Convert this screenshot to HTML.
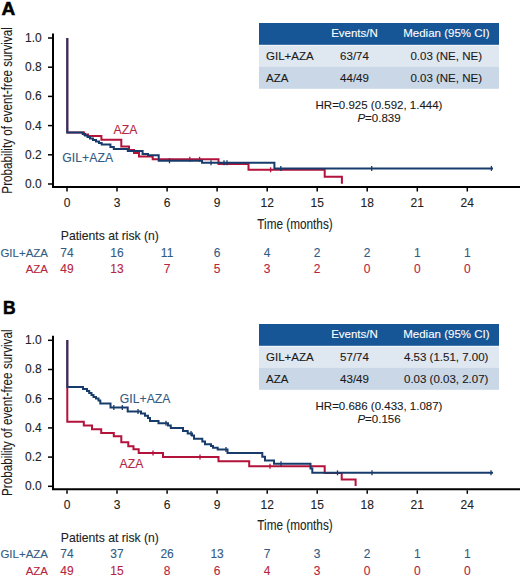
<!DOCTYPE html><html><head><meta charset="utf-8"><style>
html,body{margin:0;padding:0;background:#fff;width:520px;height:578px;overflow:hidden}
svg{display:block;font-family:"Liberation Sans", sans-serif}
text{stroke-width:0.1px}
</style></head><body>
<svg width="520" height="578" viewBox="0 0 520 578">
<text transform="translate(1.6,15) scale(1.09,1)" font-size="17.5" font-weight="bold" fill="#000" stroke="#000" style="stroke-width:0.5px">A</text>
<g transform="translate(0,0)">
<text transform="translate(12.4,110.4) rotate(-90)" text-anchor="middle" font-size="14.6" fill="#1a1a1a" stroke="#1a1a1a" textLength="166.5" lengthAdjust="spacingAndGlyphs">Probability of event-free survival</text>
<path d="M53,33.5V188M52,187H520" stroke="#000" stroke-width="2" fill="none"/>
<path d="M48,184.0H53" stroke="#000" stroke-width="1.5"/>
<text x="41.8" y="187.9" text-anchor="end" font-size="12" fill="#222" stroke="#222">0.0</text>
<path d="M48,154.8H53" stroke="#000" stroke-width="1.5"/>
<text x="41.8" y="158.7" text-anchor="end" font-size="12" fill="#222" stroke="#222">0.2</text>
<path d="M48,125.6H53" stroke="#000" stroke-width="1.5"/>
<text x="41.8" y="129.5" text-anchor="end" font-size="12" fill="#222" stroke="#222">0.4</text>
<path d="M48,96.4H53" stroke="#000" stroke-width="1.5"/>
<text x="41.8" y="100.3" text-anchor="end" font-size="12" fill="#222" stroke="#222">0.6</text>
<path d="M48,67.2H53" stroke="#000" stroke-width="1.5"/>
<text x="41.8" y="71.1" text-anchor="end" font-size="12" fill="#222" stroke="#222">0.8</text>
<path d="M48,38.0H53" stroke="#000" stroke-width="1.5"/>
<text x="41.8" y="41.9" text-anchor="end" font-size="12" fill="#222" stroke="#222">1.0</text>
<path d="M67.0,188V191.5" stroke="#000" stroke-width="1.5"/>
<text x="67.0" y="206.5" text-anchor="middle" font-size="12" fill="#222" stroke="#222">0</text>
<path d="M117.0,188V191.5" stroke="#000" stroke-width="1.5"/>
<text x="117.0" y="206.5" text-anchor="middle" font-size="12" fill="#222" stroke="#222">3</text>
<path d="M167.1,188V191.5" stroke="#000" stroke-width="1.5"/>
<text x="167.1" y="206.5" text-anchor="middle" font-size="12" fill="#222" stroke="#222">6</text>
<path d="M217.1,188V191.5" stroke="#000" stroke-width="1.5"/>
<text x="217.1" y="206.5" text-anchor="middle" font-size="12" fill="#222" stroke="#222">9</text>
<path d="M267.2,188V191.5" stroke="#000" stroke-width="1.5"/>
<text x="267.2" y="206.5" text-anchor="middle" font-size="12" fill="#222" stroke="#222">12</text>
<path d="M317.2,188V191.5" stroke="#000" stroke-width="1.5"/>
<text x="317.2" y="206.5" text-anchor="middle" font-size="12" fill="#222" stroke="#222">15</text>
<path d="M367.2,188V191.5" stroke="#000" stroke-width="1.5"/>
<text x="367.2" y="206.5" text-anchor="middle" font-size="12" fill="#222" stroke="#222">18</text>
<path d="M417.3,188V191.5" stroke="#000" stroke-width="1.5"/>
<text x="417.3" y="206.5" text-anchor="middle" font-size="12" fill="#222" stroke="#222">21</text>
<path d="M467.3,188V191.5" stroke="#000" stroke-width="1.5"/>
<text x="467.3" y="206.5" text-anchor="middle" font-size="12" fill="#222" stroke="#222">24</text>
<text x="257.3" y="229.0" font-size="14.6" fill="#222" stroke="#222" textLength="75.4" lengthAdjust="spacingAndGlyphs">Time (months)</text>
<path d="M67.3,38.00H67.3V132.50H84V134.50H88V136.00H101.4V139.70H121.3V146.50H129V150.00H134V153.00H139V156.60H152.7V159.30H218.5V164.10H248.5V169.80H324.7V176.80H341.9V183.80H341.9" stroke="#b3123a" stroke-width="2" fill="none"/>
<path d="M189.8,156.80V161.80" stroke="#b3123a" stroke-width="1.3"/>
<path d="M199.6,156.80V161.80" stroke="#b3123a" stroke-width="1.3"/>
<path d="M270.6,167.30V172.30" stroke="#b3123a" stroke-width="1.3"/>
<path d="M67.3,38.00H67.3V132.50H82.7V134.00H85V135.50H87.5V137.00H90V138.50H93V140.00H96V141.50H99V143.00H101.7V144.40H110.4V147.00H113.8V149.00H127.8V151.00H142.6V154.00H148V155.30H158.7V160.80H202V162.70H274.4V168.40H493" stroke="#173c6c" stroke-width="2" fill="none"/>
<path d="M169.5,158.30V163.30" stroke="#173c6c" stroke-width="1.3"/>
<path d="M211,160.20V165.20" stroke="#173c6c" stroke-width="1.3"/>
<path d="M224,160.20V165.20" stroke="#173c6c" stroke-width="1.3"/>
<path d="M227,160.20V165.20" stroke="#173c6c" stroke-width="1.3"/>
<path d="M280.8,165.90V170.90" stroke="#173c6c" stroke-width="1.3"/>
<path d="M371.7,165.90V170.90" stroke="#173c6c" stroke-width="1.3"/>
<path d="M491.4,165.90V170.90" stroke="#173c6c" stroke-width="1.3"/>
</g>
<text x="113.5" y="133.5" font-size="12.2" fill="#b52541" stroke="#b52541" textLength="23.8">AZA</text>
<text x="62.3" y="162" font-size="12.2" fill="#315b84" stroke="#315b84" textLength="50.8">GIL+AZA</text>
<text x="60.8" y="240.2" font-size="12.2" fill="#222" stroke="#222" textLength="98">Patients at risk (n)</text>
<text x="48" y="256.6" text-anchor="end" font-size="11.5" fill="#315b84" stroke="#315b84">GIL+AZA</text>
<text x="48" y="273.4" text-anchor="end" font-size="11.5" fill="#b52541" stroke="#b52541">AZA</text>
<text x="67.0" y="256.6" text-anchor="middle" font-size="12" fill="#315b84" stroke="#315b84">74</text>
<text x="67.0" y="273.4" text-anchor="middle" font-size="12" fill="#b52541" stroke="#b52541">49</text>
<text x="117.0" y="256.6" text-anchor="middle" font-size="12" fill="#315b84" stroke="#315b84">16</text>
<text x="117.0" y="273.4" text-anchor="middle" font-size="12" fill="#b52541" stroke="#b52541">13</text>
<text x="167.1" y="256.6" text-anchor="middle" font-size="12" fill="#315b84" stroke="#315b84">11</text>
<text x="167.1" y="273.4" text-anchor="middle" font-size="12" fill="#b52541" stroke="#b52541">7</text>
<text x="217.1" y="256.6" text-anchor="middle" font-size="12" fill="#315b84" stroke="#315b84">6</text>
<text x="217.1" y="273.4" text-anchor="middle" font-size="12" fill="#b52541" stroke="#b52541">5</text>
<text x="267.2" y="256.6" text-anchor="middle" font-size="12" fill="#315b84" stroke="#315b84">4</text>
<text x="267.2" y="273.4" text-anchor="middle" font-size="12" fill="#b52541" stroke="#b52541">3</text>
<text x="317.2" y="256.6" text-anchor="middle" font-size="12" fill="#315b84" stroke="#315b84">2</text>
<text x="317.2" y="273.4" text-anchor="middle" font-size="12" fill="#b52541" stroke="#b52541">2</text>
<text x="367.2" y="256.6" text-anchor="middle" font-size="12" fill="#315b84" stroke="#315b84">2</text>
<text x="367.2" y="273.4" text-anchor="middle" font-size="12" fill="#b52541" stroke="#b52541">0</text>
<text x="417.3" y="256.6" text-anchor="middle" font-size="12" fill="#315b84" stroke="#315b84">1</text>
<text x="417.3" y="273.4" text-anchor="middle" font-size="12" fill="#b52541" stroke="#b52541">0</text>
<text x="467.3" y="256.6" text-anchor="middle" font-size="12" fill="#315b84" stroke="#315b84">1</text>
<text x="467.3" y="273.4" text-anchor="middle" font-size="12" fill="#b52541" stroke="#b52541">0</text>
<g transform="translate(0,0)">
<rect x="259" y="23" width="240" height="21.8" fill="#165696"/>
<rect x="259" y="45.6" width="240" height="21" fill="#dfe7f0"/>
<rect x="259" y="66.6" width="240" height="22.2" fill="#c9d7e6"/>
<text x="354.5" y="37.3" text-anchor="middle" font-size="11.5" fill="#fff" stroke="#fff">Events/N</text>
<text x="446.4" y="37.3" text-anchor="middle" font-size="11.5" fill="#fff" stroke="#fff">Median (95% CI)</text>
<text x="266" y="59.8" font-size="11.5" fill="#1a1a1a" stroke="#1a1a1a">GIL+AZA</text>
<text x="354.5" y="59.8" text-anchor="middle" font-size="11.5" fill="#1a1a1a" stroke="#1a1a1a">63/74</text>
<text x="446.2" y="59.8" text-anchor="middle" font-size="11.5" fill="#1a1a1a" stroke="#1a1a1a">0.03 (NE, NE)</text>
<text x="266" y="81.5" font-size="11.5" fill="#1a1a1a" stroke="#1a1a1a">AZA</text>
<text x="354.5" y="81.5" text-anchor="middle" font-size="11.5" fill="#1a1a1a" stroke="#1a1a1a">44/49</text>
<text x="446.2" y="81.5" text-anchor="middle" font-size="11.5" fill="#1a1a1a" stroke="#1a1a1a">0.03 (NE, NE)</text>
<text x="379" y="109" text-anchor="middle" font-size="11.5" fill="#1a1a1a" stroke="#1a1a1a">HR=0.925 (0.592, 1.444)</text>
<text x="379" y="121.7" text-anchor="middle" font-size="11.5" fill="#1a1a1a" stroke="#1a1a1a"><tspan font-style="italic">P</tspan>=0.839</text>
</g>
<text transform="translate(3.0,313.8) scale(1.0,1)" font-size="17.5" font-weight="bold" fill="#000" stroke="#000" style="stroke-width:0.5px">B</text>
<g transform="translate(0,302.3)">
<text transform="translate(12.4,110.4) rotate(-90)" text-anchor="middle" font-size="14.6" fill="#1a1a1a" stroke="#1a1a1a" textLength="166.5" lengthAdjust="spacingAndGlyphs">Probability of event-free survival</text>
<path d="M53,33.5V188M52,187H520" stroke="#000" stroke-width="2" fill="none"/>
<path d="M48,184.0H53" stroke="#000" stroke-width="1.5"/>
<text x="41.8" y="187.9" text-anchor="end" font-size="12" fill="#222" stroke="#222">0.0</text>
<path d="M48,154.8H53" stroke="#000" stroke-width="1.5"/>
<text x="41.8" y="158.7" text-anchor="end" font-size="12" fill="#222" stroke="#222">0.2</text>
<path d="M48,125.6H53" stroke="#000" stroke-width="1.5"/>
<text x="41.8" y="129.5" text-anchor="end" font-size="12" fill="#222" stroke="#222">0.4</text>
<path d="M48,96.4H53" stroke="#000" stroke-width="1.5"/>
<text x="41.8" y="100.3" text-anchor="end" font-size="12" fill="#222" stroke="#222">0.6</text>
<path d="M48,67.2H53" stroke="#000" stroke-width="1.5"/>
<text x="41.8" y="71.1" text-anchor="end" font-size="12" fill="#222" stroke="#222">0.8</text>
<path d="M48,38.0H53" stroke="#000" stroke-width="1.5"/>
<text x="41.8" y="41.9" text-anchor="end" font-size="12" fill="#222" stroke="#222">1.0</text>
<path d="M67.0,188V191.5" stroke="#000" stroke-width="1.5"/>
<text x="67.0" y="206.5" text-anchor="middle" font-size="12" fill="#222" stroke="#222">0</text>
<path d="M117.0,188V191.5" stroke="#000" stroke-width="1.5"/>
<text x="117.0" y="206.5" text-anchor="middle" font-size="12" fill="#222" stroke="#222">3</text>
<path d="M167.1,188V191.5" stroke="#000" stroke-width="1.5"/>
<text x="167.1" y="206.5" text-anchor="middle" font-size="12" fill="#222" stroke="#222">6</text>
<path d="M217.1,188V191.5" stroke="#000" stroke-width="1.5"/>
<text x="217.1" y="206.5" text-anchor="middle" font-size="12" fill="#222" stroke="#222">9</text>
<path d="M267.2,188V191.5" stroke="#000" stroke-width="1.5"/>
<text x="267.2" y="206.5" text-anchor="middle" font-size="12" fill="#222" stroke="#222">12</text>
<path d="M317.2,188V191.5" stroke="#000" stroke-width="1.5"/>
<text x="317.2" y="206.5" text-anchor="middle" font-size="12" fill="#222" stroke="#222">15</text>
<path d="M367.2,188V191.5" stroke="#000" stroke-width="1.5"/>
<text x="367.2" y="206.5" text-anchor="middle" font-size="12" fill="#222" stroke="#222">18</text>
<path d="M417.3,188V191.5" stroke="#000" stroke-width="1.5"/>
<text x="417.3" y="206.5" text-anchor="middle" font-size="12" fill="#222" stroke="#222">21</text>
<path d="M467.3,188V191.5" stroke="#000" stroke-width="1.5"/>
<text x="467.3" y="206.5" text-anchor="middle" font-size="12" fill="#222" stroke="#222">24</text>
<text x="257.3" y="228.0" font-size="14.6" fill="#222" stroke="#222" textLength="75.4" lengthAdjust="spacingAndGlyphs">Time (months)</text>
<path d="M67.3,37.70H67.3V119.50H83.8V123.10H92V126.90H101.2V130.70H113.8V134.00H121.3V140.00H128.3V144.00H133.5V146.90H138.7V150.60H163V154.70H218.5V158.90H249.2V163.90H324.7V170.60H341.7V177.20H355.6V183.70H355.6" stroke="#b3123a" stroke-width="2" fill="none"/>
<path d="M153,148.10V153.10" stroke="#b3123a" stroke-width="1.3"/>
<path d="M200,152.20V157.20" stroke="#b3123a" stroke-width="1.3"/>
<path d="M270,161.40V166.40" stroke="#b3123a" stroke-width="1.3"/>
<path d="M67.3,37.70H67.3V84.70H83V86.70H87V88.70H89.2V90.70H91.5V92.70H93.5V94.70H96V96.20H98.5V98.20H100.3V101.10H110.5V105.10H127.7V109.20H141V111.20H145V113.50H148V115.70H150V118.70H158.5V120.90H168V123.20H170.8V125.70H183V128.70H187.7V131.20H192V133.20H194V136.50H202.3V139.20H205V142.00H211V143.70H213V145.40H217.7V147.20H227.5V150.70H262.3V154.50H265V158.20H274V161.50H310.5V166.20H312.3V170.50H493" stroke="#173c6c" stroke-width="2" fill="none"/>
<path d="M113.8,102.60V107.60" stroke="#173c6c" stroke-width="1.3"/>
<path d="M122.3,102.60V107.60" stroke="#173c6c" stroke-width="1.3"/>
<path d="M138,106.70V111.70" stroke="#173c6c" stroke-width="1.3"/>
<path d="M166,118.40V123.40" stroke="#173c6c" stroke-width="1.3"/>
<path d="M191,128.70V133.70" stroke="#173c6c" stroke-width="1.3"/>
<path d="M226,144.70V149.70" stroke="#173c6c" stroke-width="1.3"/>
<path d="M281,159.00V164.00" stroke="#173c6c" stroke-width="1.3"/>
<path d="M337.5,168.00V173.00" stroke="#173c6c" stroke-width="1.3"/>
<path d="M372,168.00V173.00" stroke="#173c6c" stroke-width="1.3"/>
<path d="M491,168.00V173.00" stroke="#173c6c" stroke-width="1.3"/>
</g>
<text x="119.6" y="467.7" font-size="12.2" fill="#b52541" stroke="#b52541" textLength="23.8">AZA</text>
<text x="119.7" y="402.5" font-size="12.2" fill="#315b84" stroke="#315b84" textLength="50.8">GIL+AZA</text>
<text x="60.8" y="541.9" font-size="12.2" fill="#222" stroke="#222" textLength="98">Patients at risk (n)</text>
<text x="48" y="557.7" text-anchor="end" font-size="11.5" fill="#315b84" stroke="#315b84">GIL+AZA</text>
<text x="48" y="575.0" text-anchor="end" font-size="11.5" fill="#b52541" stroke="#b52541">AZA</text>
<text x="67.0" y="557.7" text-anchor="middle" font-size="12" fill="#315b84" stroke="#315b84">74</text>
<text x="67.0" y="575.0" text-anchor="middle" font-size="12" fill="#b52541" stroke="#b52541">49</text>
<text x="117.0" y="557.7" text-anchor="middle" font-size="12" fill="#315b84" stroke="#315b84">37</text>
<text x="117.0" y="575.0" text-anchor="middle" font-size="12" fill="#b52541" stroke="#b52541">15</text>
<text x="167.1" y="557.7" text-anchor="middle" font-size="12" fill="#315b84" stroke="#315b84">26</text>
<text x="167.1" y="575.0" text-anchor="middle" font-size="12" fill="#b52541" stroke="#b52541">8</text>
<text x="217.1" y="557.7" text-anchor="middle" font-size="12" fill="#315b84" stroke="#315b84">13</text>
<text x="217.1" y="575.0" text-anchor="middle" font-size="12" fill="#b52541" stroke="#b52541">6</text>
<text x="267.2" y="557.7" text-anchor="middle" font-size="12" fill="#315b84" stroke="#315b84">7</text>
<text x="267.2" y="575.0" text-anchor="middle" font-size="12" fill="#b52541" stroke="#b52541">4</text>
<text x="317.2" y="557.7" text-anchor="middle" font-size="12" fill="#315b84" stroke="#315b84">3</text>
<text x="317.2" y="575.0" text-anchor="middle" font-size="12" fill="#b52541" stroke="#b52541">3</text>
<text x="367.2" y="557.7" text-anchor="middle" font-size="12" fill="#315b84" stroke="#315b84">2</text>
<text x="367.2" y="575.0" text-anchor="middle" font-size="12" fill="#b52541" stroke="#b52541">0</text>
<text x="417.3" y="557.7" text-anchor="middle" font-size="12" fill="#315b84" stroke="#315b84">1</text>
<text x="417.3" y="575.0" text-anchor="middle" font-size="12" fill="#b52541" stroke="#b52541">0</text>
<text x="467.3" y="557.7" text-anchor="middle" font-size="12" fill="#315b84" stroke="#315b84">1</text>
<text x="467.3" y="575.0" text-anchor="middle" font-size="12" fill="#b52541" stroke="#b52541">0</text>
<g transform="translate(0,301)">
<rect x="259" y="23" width="240" height="21.8" fill="#165696"/>
<rect x="259" y="45.6" width="240" height="21" fill="#dfe7f0"/>
<rect x="259" y="66.6" width="240" height="22.2" fill="#c9d7e6"/>
<text x="354.5" y="37.3" text-anchor="middle" font-size="11.5" fill="#fff" stroke="#fff">Events/N</text>
<text x="446.4" y="37.3" text-anchor="middle" font-size="11.5" fill="#fff" stroke="#fff">Median (95% CI)</text>
<text x="266" y="59.8" font-size="11.5" fill="#1a1a1a" stroke="#1a1a1a">GIL+AZA</text>
<text x="354.5" y="59.8" text-anchor="middle" font-size="11.5" fill="#1a1a1a" stroke="#1a1a1a">57/74</text>
<text x="446.2" y="59.8" text-anchor="middle" font-size="11.5" fill="#1a1a1a" stroke="#1a1a1a">4.53 (1.51, 7.00)</text>
<text x="266" y="81.5" font-size="11.5" fill="#1a1a1a" stroke="#1a1a1a">AZA</text>
<text x="354.5" y="81.5" text-anchor="middle" font-size="11.5" fill="#1a1a1a" stroke="#1a1a1a">43/49</text>
<text x="446.2" y="81.5" text-anchor="middle" font-size="11.5" fill="#1a1a1a" stroke="#1a1a1a">0.03 (0.03, 2.07)</text>
<text x="379" y="109" text-anchor="middle" font-size="11.5" fill="#1a1a1a" stroke="#1a1a1a">HR=0.686 (0.433, 1.087)</text>
<text x="379" y="121.7" text-anchor="middle" font-size="11.5" fill="#1a1a1a" stroke="#1a1a1a"><tspan font-style="italic">P</tspan>=0.156</text>
</g>
</svg></body></html>
